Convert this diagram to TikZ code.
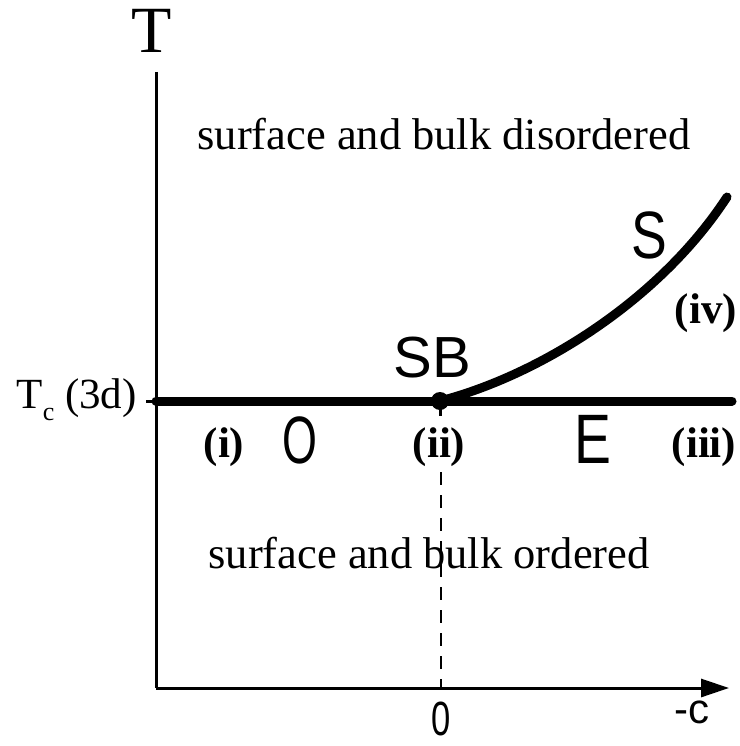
\documentclass[tikz,border=0pt]{standalone}
\usepackage{fontspec}
\setmainfont{Liberation Serif}
\newfontfamily\handfont{Liberation Sans}
\usetikzlibrary{arrows.meta}
\tikzset{
  axisline/.style={line width=3pt},
  phaseline/.style={line width=9pt, line cap=round},
  guide/.style={line width=2.5pt, dash pattern=on 13pt off 10pt},
  serifbig/.style={font=\fontsize{44.5}{50}\selectfont, inner sep=0pt, anchor=base},
  boldlabel/.style={font=\fontsize{43}{48}\selectfont\bfseries, inner sep=0pt, anchor=base},
  handlabel/.style={inner sep=0pt, anchor=base}
}
\newcommand{\hand}[3]{{\fontsize{#1}{#1}\selectfont\handfont\scalebox{#2}[1]{#3}}}
\begin{document}
\begin{tikzpicture}[x=1pt,y=-1pt]
\useasboundingbox (0,0) rectangle (739,746);
\coordinate (ytop) at (156,72);
\coordinate (orig) at (156,688);
\coordinate (xend) at (729,688);
\coordinate (tcL) at (156,401);
\coordinate (tcR) at (732,401);
\coordinate (tick) at (146,401);
\coordinate (dtop) at (441,472);
\coordinate (zero) at (441,688);
\coordinate (sbtail) at (440,416);
\coordinate (send) at (727,197);
\draw[axisline] (ytop) -- (orig);
\draw[axisline, -{Triangle[length=28pt,width=18pt]}] (orig) -- (xend);
\draw[axisline] (tick) -- (tcL);
\draw[phaseline] (tcL) -- (tcR);
\node[circle, fill, inner sep=0pt, minimum size=18pt] (sb) at (440,401) {};
\draw[axisline] (sb.center) -- (sbtail);
\draw[guide] (dtop) -- (zero);
\draw[phaseline] (sb.center) .. controls (540,375) and (660,300) .. (send);
\node[font=\fontsize{66}{70}\selectfont, inner sep=0pt, anchor=base] (tlab) at (152,53) {T};
\node[serifbig] (dis) at (444,150) {surface and bulk disordered};
\node[serifbig] (ord) at (429,568) {surface and bulk ordered};
\node[font=\fontsize{43}{48}\selectfont, inner sep=0pt, anchor=base east] (tc) at (137,408) {T\raisebox{-0.28em}{\fontsize{26}{26}\selectfont c} (3d)};
\node[boldlabel] (l1) at (224,457) {(i)};
\node[boldlabel] (l2) at (439,457) {(ii)};
\node[boldlabel] (l3) at (704,457) {(iii)};
\node[boldlabel] (l4) at (706,323) {(iv)};
\node[handlabel] (hO) at (300,463) {\hand{67}{0.67}{O}};
\node[handlabel] (hE) at (593,463) {\hand{70}{0.79}{E}};
\node[handlabel] (hS) at (649,258) {\hand{67}{0.8}{S}};
\node[handlabel] (hSB) at (432,377) {\hand{58}{1}{SB}};
\node[handlabel] (h0) at (441,735) {\hand{48}{0.72}{0}};
\node[handlabel] (hc) at (692,723) {\hand{42}{1}{-c}};
\end{tikzpicture}
\end{document}
